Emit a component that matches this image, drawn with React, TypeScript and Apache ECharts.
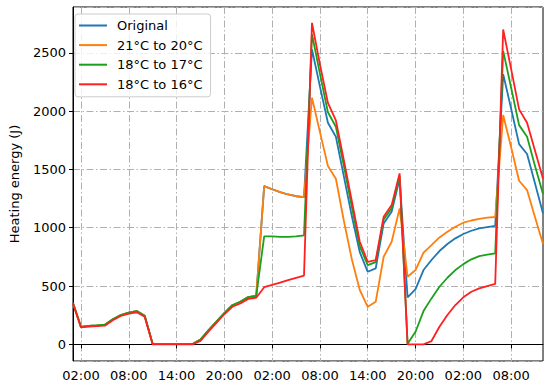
import React, { useEffect, useRef } from "react";
import * as echarts from "echarts";

const hours = [
  "01:00", "02:00", "03:00", "04:00", "05:00", "06:00", "07:00", "08:00", "09:00", "10:00",
  "11:00", "12:00", "13:00", "14:00", "15:00", "16:00", "17:00", "18:00", "19:00", "20:00",
  "21:00", "22:00", "23:00", "00:00", "01:00", "02:00", "03:00", "04:00", "05:00", "06:00",
  "07:00", "08:00", "09:00", "10:00", "11:00", "12:00", "13:00", "14:00", "15:00", "16:00",
  "17:00", "18:00", "19:00", "20:00", "21:00", "22:00", "23:00", "00:00", "01:00", "02:00",
  "03:00", "04:00", "05:00", "06:00", "07:00", "08:00", "09:00", "10:00", "11:00", "12:00",
];

const xTickLabels = ["02:00", "08:00", "14:00", "20:00", "02:00", "08:00", "14:00", "20:00", "02:00", "08:00"];

const original = [
  355, 150, 158, 162, 168, 215, 250, 272, 285, 245, 3, 2, 2, 2, 2, 3, 40, 120, 195, 268, 335, 365, 405, 415,
  1357, 1330, 1305, 1285, 1270, 1262,
  2530, 2210, 1900, 1780, 1440, 1100, 790, 622, 652, 1037, 1137, 1420,
  403, 474, 637, 723, 800, 860, 909, 946, 974, 994, 1005, 1015,
  2317, 2020, 1717, 1632, 1380, 1123,
];

const c21to20 = [
  355, 150, 158, 162, 168, 215, 250, 272, 285, 245, 3, 2, 2, 2, 2, 3, 40, 120, 195, 268, 335, 365, 405, 415,
  1357, 1330, 1305, 1285, 1270, 1262,
  2115, 1820, 1530, 1420, 1060, 730, 466, 322, 365, 751, 880, 1166,
  580, 637, 786, 851, 917, 965, 1008, 1043, 1062, 1076, 1086, 1092,
  1966, 1690, 1403, 1323, 1090, 860,
];

const c18to17 = [
  355, 150, 158, 162, 168, 215, 250, 272, 285, 245, 3, 2, 2, 2, 2, 3, 40, 120, 195, 268, 335, 365, 405, 415,
  925, 925, 922, 922, 925, 935,
  2660, 2320, 1990, 1866, 1530, 1180, 840, 680, 705, 1071, 1166, 1445,
  5, 108, 285, 394, 494, 571, 637, 688, 729, 757, 770, 780,
  2517, 2200, 1880, 1781, 1530, 1290,
];

const c18to16 = [
  350, 145, 152, 156, 160, 207, 243, 263, 275, 237, 0, 0, 0, 0, 0, 0, 30, 108, 183, 258, 322, 350, 390, 400,
  490, 510, 530, 550, 570, 590,
  2757, 2400, 2070, 1920, 1580, 1230, 880, 708, 723, 1094, 1194, 1466,
  0, 0, 0, 28, 151, 251, 337, 403, 451, 480, 500, 518,
  2700, 2360, 2015, 1901, 1660, 1420,
];

const seriesNames = ["Original", "21°C to 20°C", "18°C to 17°C", "18°C to 16°C"];
const seriesData = [original, c21to20, c18to17, c18to16];
const colors = ["#1f77b4", "#ff7f0e", "#1ca01c", "#ff2020"];

const FONT = "DejaVu Sans";
const gridStyle = { color: "#b0b0b0", width: 1, type: [7, 2.5, 1.5, 2.5] as number[] };

export default function App() {
  const ref = useRef<HTMLDivElement>(null);
  useEffect(() => {
    if (!ref.current) return;
    const chart = echarts.init(ref.current, undefined, { renderer: "svg" });
    const tickShown = (idx: number) => idx % 6 === 1;
    chart.setOption({
      animation: false,
      textStyle: { fontFamily: FONT },
      grid: {
        left: 68,
        right: 7,
        top: 7,
        bottom: 27,
        show: true,
        borderColor: "#000",
        borderWidth: 1,
        backgroundColor: "#fff",
      },
      legend: {
        orient: "vertical",
        left: 75,
        top: 14,
        padding: [5, 8, 6, 4],
        icon: "rect",
        itemWidth: 28,
        itemHeight: 2,
        itemGap: 6.6,
        borderColor: "#cccccc",
        borderWidth: 1,
        borderRadius: 3,
        backgroundColor: "rgba(255,255,255,0.8)",
        textStyle: { fontFamily: FONT, fontSize: 13, color: "#000", padding: [0, 0, 0, 5] },
        data: seriesNames,
      },
      xAxis: {
        type: "category",
        data: hours,
        boundaryGap: false,
        axisLine: { show: true, lineStyle: { color: "#000", width: 1 } },
        axisTick: {
          show: true,
          inside: false,
          length: 4,
          interval: (idx: number) => tickShown(idx),
          lineStyle: { color: "#000" },
        },
        axisLabel: {
          interval: (idx: number) => tickShown(idx),
          formatter: (_v: string, idx: number) => xTickLabels[Math.floor(idx / 6)] ?? _v,
          fontFamily: FONT,
          fontSize: 13,
          color: "#000",
          margin: 8,
        },
        splitLine: {
          show: true,
          interval: (idx: number) => tickShown(idx),
          lineStyle: gridStyle,
        },
      },
      yAxis: {
        type: "value",
        min: -143,
        max: 2893,
        name: "Heating energy (J)",
        nameLocation: "middle",
        nameGap: 52,
        nameTextStyle: { fontFamily: FONT, fontSize: 13, color: "#000" },
        axisLine: { show: true, lineStyle: { color: "#000", width: 1 } },
        axisTick: { show: true, inside: false, length: 4, lineStyle: { color: "#000" } },
        axisLabel: {
          showMinLabel: false,
          showMaxLabel: false,
          formatter: (v: number) => String(v),
          fontFamily: FONT,
          fontSize: 13,
          color: "#000",
          margin: 7,
        },
        splitLine: { show: true, lineStyle: gridStyle },
      },
      series: seriesNames.map((name, i) => ({
        name,
        type: "line",
        data: seriesData[i],
        showSymbol: false,
        symbol: "none",
        color: colors[i],
        lineStyle: { color: colors[i], width: 1.8 },
        z: 2 + i,
      })),
    });
    return () => chart.dispose();
  }, []);
  return (
    <div
      ref={ref}
      style={{ position: "fixed", left: 0, top: 0, width: 550, height: 388, background: "#fff" }}
    />
  );
}
